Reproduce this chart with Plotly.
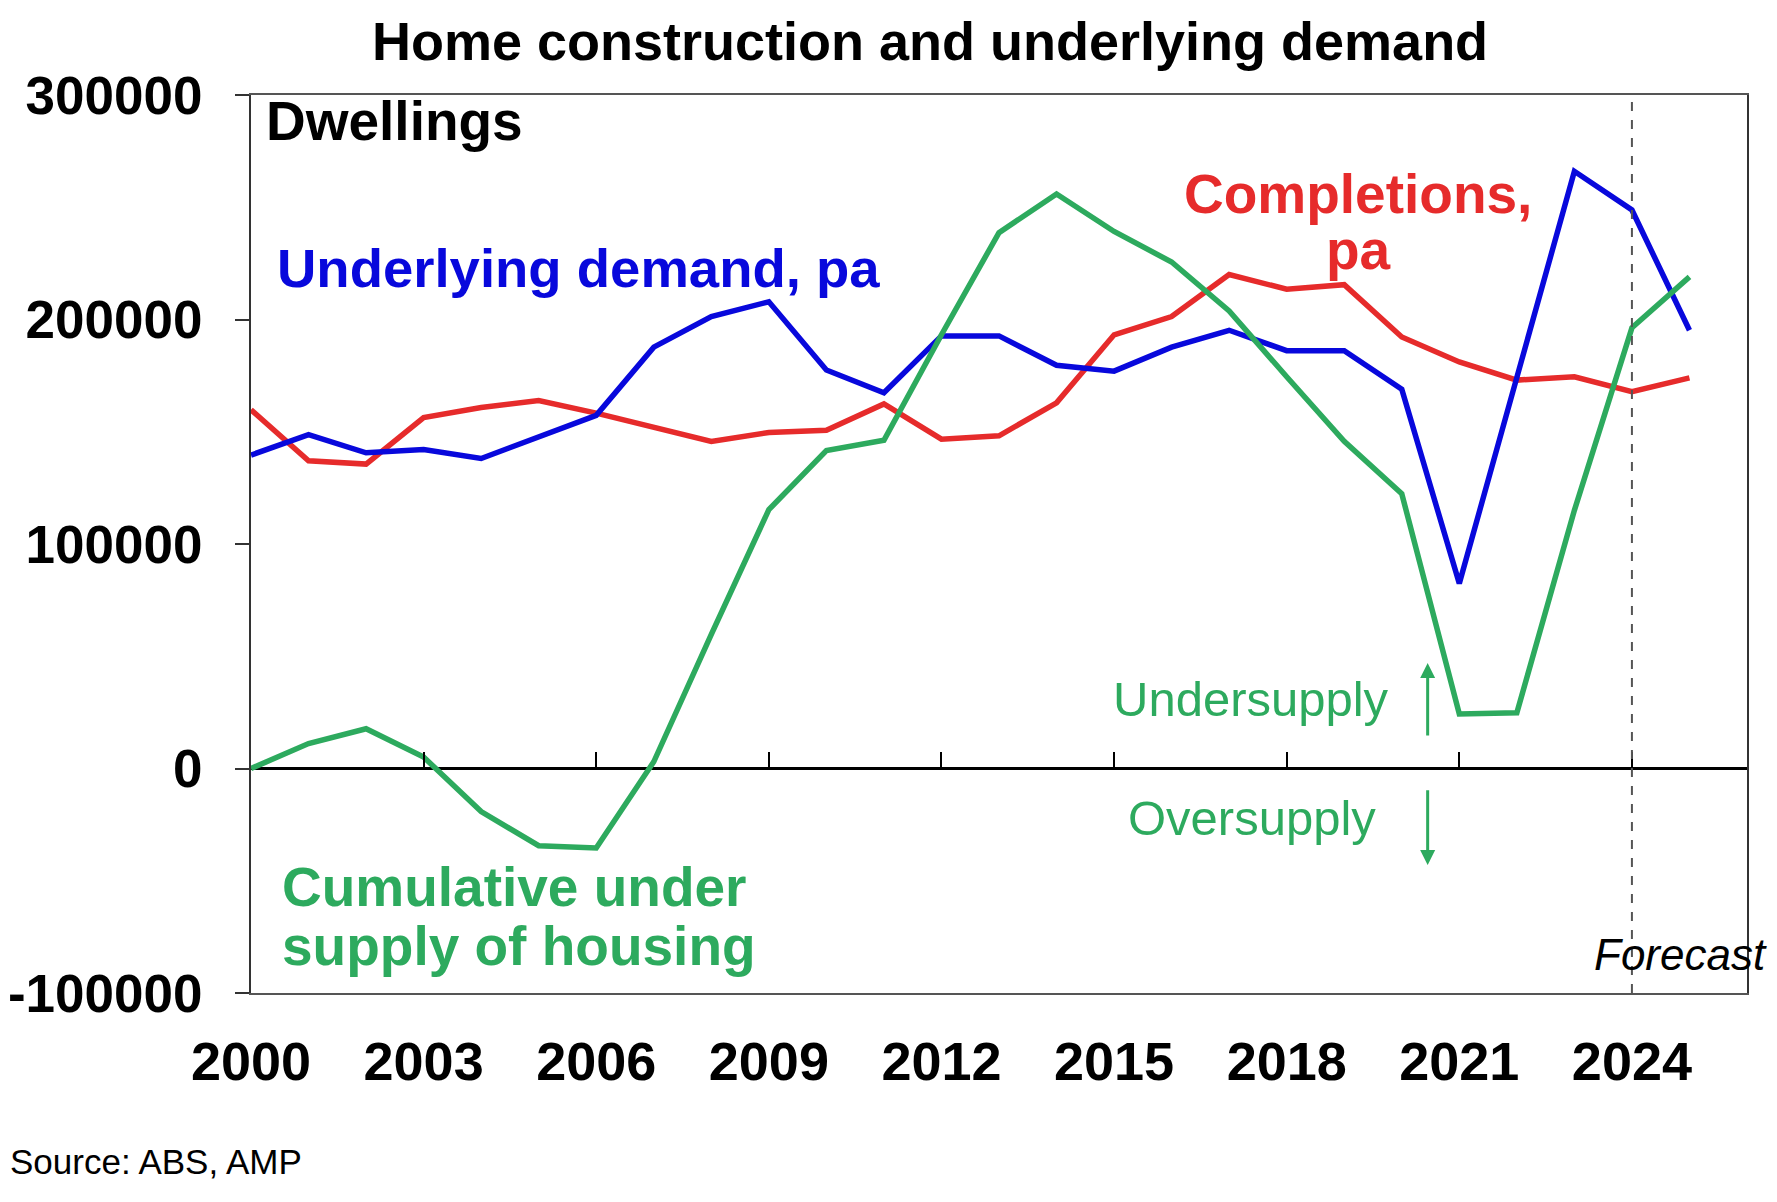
import plotly.graph_objects as go

# annual values, dwellings
years = list(range(2000, 2026))
underlying_demand = [139600, 148700, 140600, 142100, 138100, 147700, 157300, 187700, 201300, 207900,
                     177500, 167400, 192700, 192700, 179600, 177000, 187700, 195200, 186100, 186100,
                     168900, 82400, 174500, 266000, 248800, 195200]
completions = [159800, 137100, 135600, 156300, 160800, 163900, 158300, 151700, 145700, 149700,
               150700, 162400, 146700, 148200, 162900, 193200, 201300, 220000, 213500, 215500,
               192200, 181100, 173000, 174500, 167900, 174000]
cumulative_undersupply = [0, 11100, 17700, 5100, -19200, -34400, -35400, 3000, 59700, 115300,
                          141600, 146200, 193200, 238700, 255900, 239200, 225600, 203800, 174500, 145700,
                          122400, 24300, 24800, 115000, 196300, 219000]

forecast_start = 2024
x_ticks = [2000, 2003, 2006, 2009, 2012, 2015, 2018, 2021, 2024]
y_ticks = [-100000, 0, 100000, 200000, 300000]
y_labels = ['-100000', '0', '100000', '200000', '300000']

BLUE = '#0808DC'
RED = '#E62B2B'
GREEN = '#2DAA5E'
FONT = 'Arial, Liberation Sans, sans-serif'
LW = 5.5

fig = go.Figure()
fig.add_trace(go.Scatter(x=years, y=completions, mode='lines', line=dict(color=RED, width=LW)))
fig.add_trace(go.Scatter(x=years, y=underlying_demand, mode='lines', line=dict(color=BLUE, width=LW)))
fig.add_trace(go.Scatter(x=years, y=cumulative_undersupply, mode='lines', line=dict(color=GREEN, width=LW)))
# invisible copy so the tick axis on the zero line gets drawn
fig.add_trace(go.Scatter(x=years, y=cumulative_undersupply, mode='lines', xaxis='x2',
                         line=dict(color='rgba(0,0,0,0)', width=0), hoverinfo='skip'))

fig.add_vline(x=forecast_start, line=dict(color='#555555', width=2, dash='dash'))


def note(text, x, y, color, size=55, bold=True, xanchor='left', italic=False):
    if bold:
        text = f'<b>{text}</b>'
    if italic:
        text = f'<i>{text}</i>'
    fig.add_annotation(x=x, y=y, xref='x', yref='y', text=text, showarrow=False,
                       xanchor=xanchor, yanchor='middle',
                       font=dict(family=FONT, size=size, color=color))


note('Dwellings', 2000.23, 288400, 'black', size=55)
note('Underlying demand, pa', 2000.42, 222500, BLUE, size=54.5)
note('Completions,', 2019.24, 256000, RED, xanchor='center')
note('pa', 2019.24, 231000, RED, xanchor='center')
note('Cumulative under', 2000.5, -52800, GREEN)
note('supply of housing', 2000.5, -79000, GREEN)
note('Undersupply', 2017.38, 31000, GREEN, size=49, bold=False, xanchor='center')
note('Oversupply', 2017.40, -22000, GREEN, size=49, bold=False, xanchor='center')
note('Forecast', 2023.3, -83000, 'black', size=44, bold=False, italic=True)

# under / over supply arrows
fig.add_annotation(x=2020.45, y=47000, ax=2020.45, ay=14000, xref='x', yref='y', axref='x', ayref='y',
                   text='', showarrow=True, arrowhead=2, arrowsize=1, arrowwidth=3, arrowcolor=GREEN)
fig.add_annotation(x=2020.45, y=-43000, ax=2020.45, ay=-9000, xref='x', yref='y', axref='x', ayref='y',
                   text='', showarrow=True, arrowhead=2, arrowsize=1, arrowwidth=3, arrowcolor=GREEN)

fig.add_annotation(x=0.454, y=1.0601, xref='paper', yref='paper', text='<b>Home construction and underlying demand</b>',
                   showarrow=False, font=dict(family=FONT, size=54, color='black'), xanchor='center', yanchor='middle')
fig.add_annotation(x=-243 / 1496, y=-0.188, xref='paper', yref='paper', text='Source: ABS, AMP',
                   showarrow=False, font=dict(family=FONT, size=35, color='black'), xanchor='left', yanchor='middle')

xtickfont = dict(size=54, family=FONT, weight='bold', color='black')
ytickfont = dict(size=53, family=FONT, weight='bold', color='black')
# page body adds an 8px offset, so the figure is 8px smaller and margins shifted
fig.update_layout(
    width=1769, height=1194,
    margin=dict(l=243, r=30, t=87, b=209, autoexpand=False),
    paper_bgcolor='white', plot_bgcolor='white',
    showlegend=False,
    font=dict(family=FONT, color='black'),
    xaxis=dict(range=[2000, 2026], tickvals=x_ticks, ticks='', showgrid=False, zeroline=False,
               showline=True, linecolor='#555555', linewidth=2, mirror=True, automargin=False,
               tickfont=xtickfont, ticklabelstandoff=20),
    xaxis2=dict(range=[2000, 2026], overlaying='x', anchor='free', position=0.25, side='bottom',
                tickvals=x_ticks[1:], ticks='inside', ticklen=17, tickwidth=2, tickcolor='black',
                showticklabels=False, showgrid=False, zeroline=False, showline=False, automargin=False),
    yaxis=dict(range=[-100000, 300000], tickvals=y_ticks, ticktext=y_labels, ticks='outside', ticklen=14,
               tickwidth=2, tickcolor='#333333', showgrid=False, zeroline=True, zerolinecolor='black',
               zerolinewidth=2.5, showline=True, linecolor='#333333', linewidth=2, mirror=True,
               automargin=False, tickfont=ytickfont, ticklabelstandoff=22),
)

fig.write_html('out.html')
